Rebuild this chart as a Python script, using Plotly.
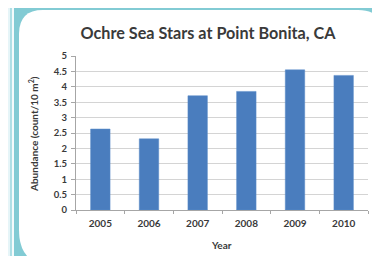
import plotly.graph_objects as go

years = ["2005", "2006", "2007", "2008", "2009", "2010"]
abundance = [2.63, 2.31, 3.71, 3.85, 4.55, 4.37]
y_ticks = [0, 0.5, 1, 1.5, 2, 2.5, 3, 3.5, 4, 4.5, 5]
y_tick_text = ["0", "0.5", "1", "1.5", "2", "2.5", "3", "3.5", "4", "4.5", "5"]

W, H = 380, 256
L, R, T, B = 68, 20, 48, 54
PW, PH = W - L - R, H - T - B

def px(x):
    return (x - L) / PW

def py(y):
    return 1 - (y - T) / PH

FONT = "Lato"
TEAL = "#82cbd4"
TXT = "#3a3a3a"

shapes = []
def rect(x0, y0, x1, y1, color):
    shapes.append(dict(type="rect", xref="paper", yref="paper",
                       x0=px(x0), x1=px(x1), y0=py(y1), y1=py(y0),
                       fillcolor=color, line=dict(width=0), layer="below"))

rect(0, 0, 2.5, H, "#e6f5f8")
rect(2.5, 0, 3.8, H, "#a8dce4")
rect(3.8, 0, 6, H, "#f4fbfc")

# white rounded panel
x0, y0, x1, y1 = 11, 2, 376, 258
r_tl, r_tr, r_br, r_bl = 24, 26, 22, 36
pts = [
    ("M", x0 + r_tl, y0),
    ("L", x1 - r_tr, y0),
    ("Q", x1, y0, x1, y0 + r_tr),
    ("L", x1, y1 - r_br),
    ("Q", x1, y1, x1 - r_br, y1),
    ("L", x0 + r_bl, y1),
    ("Q", x0, y1, x0, y1 - r_bl),
    ("L", x0, y0 + r_tl),
    ("Q", x0, y0, x0 + r_tl, y0),
]
path = ""
for p in pts:
    s = p[0]
    coords = p[1:]
    for i in range(0, len(coords), 2):
        s += f"{px(coords[i]):.5f},{py(coords[i+1]):.5f} "
    path += s
path += "Z"
shapes.append(dict(type="path", xref="paper", yref="paper", path=path,
                   fillcolor="white", line=dict(width=0), layer="below"))

fig = go.Figure(go.Bar(
    x=years, y=abundance,
    marker=dict(color="#4a7dbe", line=dict(color="#5b8cc8", width=0.5)),
    width=0.4,
))

fig.update_layout(
    width=W, height=H,
    margin=dict(l=L, r=R, t=T, b=B),
    paper_bgcolor=TEAL,
    plot_bgcolor="white",
    shapes=shapes,
    showlegend=False,
    title=dict(text="Ochre Sea Stars at Point Bonita, CA",
               font=dict(family=FONT, size=16.2, color=TXT, weight="bold"),
               x=px(200), xanchor="center", xref="paper",
               y=1 - 25 / H, yanchor="middle"),
    font=dict(family=FONT, color=TXT),
    annotations=[
        dict(text="Abundance (count/10 m<sup>2</sup>)", textangle=-90,
             xref="paper", yref="paper", x=px(26), y=py(126),
             xanchor="center", yanchor="middle", showarrow=False,
             font=dict(family=FONT, size=10, color=TXT, weight="bold")),
        dict(text="Year", xref="paper", yref="paper", x=px(213), y=py(237),
             xanchor="center", yanchor="middle", showarrow=False,
             font=dict(family=FONT, size=10, color=TXT, weight="bold")),
    ],
)

fig.update_xaxes(
    type="category",
    showline=True, linecolor="#a6a6a6", linewidth=1,
    ticks="outside", tickson="boundaries", ticklen=3, tickcolor="#a6a6a6",
    tickfont=dict(family=FONT, size=10, color=TXT, weight="bold"),
    ticklabelstandoff=4,
    showgrid=False,
)
fig.update_yaxes(
    range=[0, 5],
    tickvals=y_ticks, ticktext=y_tick_text,
    showline=True, linecolor="#a6a6a6", linewidth=1,
    ticks="outside", ticklen=4, tickcolor="#a6a6a6",
    tickfont=dict(family=FONT, size=9.5, color=TXT, weight="bold"),
    ticklabelstandoff=2,
    showgrid=True, gridcolor="#d4d4d4", gridwidth=1,
    zeroline=False,
)

fig.write_html("out.html")
